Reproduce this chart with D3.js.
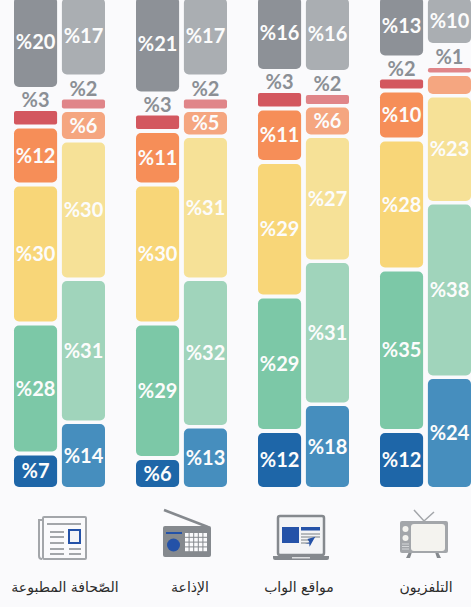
<!DOCTYPE html>
<html>
<head>
<meta charset="utf-8">
<script src="https://cdn.jsdelivr.net/npm/d3@7"></script>
<style>
  html, body { margin: 0; padding: 0; background: #fafafc; }
  svg { display: block; }
</style>
</head>
<body>
<svg id="drawing_region"></svg>
<script>
// left to right, as in the picture
const media = ['الصّحافة المطبوعة', 'الإذاعة', 'مواقع الواب', 'التلفزيون'];
const labelCentres = [65, 190, 299, 426];

// stack order, bottom to top
const levels = ['blue', 'green', 'yellow', 'orange', 'red', 'grey'];
const darkColors = ['#1e66a8', '#7cc8a7', '#f8d678', '#f68e58', '#d3575f', '#8d9197'];
const lightColors = ['#468ebe', '#a0d4bb', '#f6e197', '#f5a680', '#e08589', '#aaaeb2'];

const printPress = [7, 28, 30, 12, 3, 20];
const printPressLight = [14, 31, 30, 6, 2, 17];
const radio = [6, 29, 30, 11, 3, 21];
const radioLight = [13, 32, 31, 5, 2, 17];
const web = [12, 29, 29, 11, 3, 16];
const webLight = [18, 31, 27, 6, 2, 16];
const tv = [12, 35, 28, 10, 2, 13];
const tvLight = [24, 38, 23, 4, 1, 10];

const darkSeries = [printPress, radio, web, tv];
const lightSeries = [printPressLight, radioLight, webLight, tvLight];

const width = 471, height = 607;
const bottom = 487;
const gaps = { dark: 4, light: 3.5 };      // space between two segments
const redGaps = { dark: 24, light: 25 };   // room for the grey label above the red segment

const svg = d3.select('#drawing_region')
    .attr('width', width)
    .attr('height', height);

const xscale = d3.scaleBand()
    .domain(d3.range(media.length))
    .range([14, 14 + 122 * media.length]);

const subscale = d3.scaleBand()
    .domain(['dark', 'light'])
    .range([0, 91])
    .paddingInner(0.1);

const yscale = d3.scaleLinear()
    .domain([0, 100])
    .range([0, 450]);

function segments(values, m, kind) {
    let top = bottom;
    return values.map((v, i) => {
        if (levels[i] === 'grey') top -= redGaps[kind];
        else if (i > 0) top -= gaps[kind];
        const h = yscale(v);
        const seg = { m, kind, i, value: v, level: levels[i], y: top - h, h };
        top -= h;
        return seg;
    });
}

const data = [];
darkSeries.forEach((vals, m) => data.push(...segments(vals, m, 'dark')));
lightSeries.forEach((vals, m) => data.push(...segments(vals, m, 'light')));

const chart = svg.append('g');

chart.selectAll('rect')
    .data(data)
    .enter()
    .append('rect')
    .attr('x', d => xscale(d.m) + subscale(d.kind))
    .attr('y', d => d.y)
    .attr('width', subscale.bandwidth())
    .attr('height', d => d.h)
    .attr('rx', d => d.level === 'red' ? 2 : 5)
    .attr('fill', d => (d.kind === 'dark' ? darkColors : lightColors)[d.i]);

// the 4% segment of the TV column has no label in the original
chart.selectAll('text')
    .data(data.filter(d => d.value > 4 || d.level === 'red'))
    .enter()
    .append('text')
    .attr('x', d => xscale(d.m) + subscale(d.kind) + subscale.bandwidth() / 2)
    .attr('y', d => d.level === 'red' ? d.y - 11 : d.y + d.h / 2)
    .attr('dy', '0.36em')
    .attr('text-anchor', 'middle')
    .attr('direction', 'ltr')
    .style('font-family', 'Lato, "Open Sans", sans-serif')
    .style('font-weight', 700)
    .style('font-size', '20px')
    .style('fill', d => d.level === 'red' ? '#8b8f95' : '#fcfcfc')
    .text(d => '%' + d.value);

svg.selectAll('text.media')
    .data(media)
    .enter()
    .append('text')
    .attr('class', 'media')
    .attr('x', (d, i) => labelCentres[i])
    .attr('y', 592)
    .attr('text-anchor', 'middle')
    .attr('direction', 'rtl')
    .style('font-family', '"DejaVu Sans", "Noto Sans", sans-serif')
    .style('font-size', '14px')
    .style('fill', '#2b2b2b')
    .text(d => d);

// icons
const iconGrey = '#a3a6aa', iconDark = '#85898e', iconBlue = '#2452a8';

// newspaper
const paper = svg.append('g').attr('fill', 'none').attr('stroke', iconGrey);
paper.append('path').attr('d', 'M42 520H39V556Q39 559 42 559').attr('stroke-width', 2);
paper.append('rect').attr('x', 43).attr('y', 517).attr('width', 43).attr('height', 42)
    .attr('rx', 1).attr('fill', '#fafafc').attr('stroke-width', 2);
paper.append('path').attr('stroke-width', 2)
    .attr('d', 'M47 524H81M50 532H64M50 537H64M50 543H64M50 549H64M69 549H81M50 554H64M69 554H81');
paper.append('rect').attr('x', 69).attr('y', 530).attr('width', 11).attr('height', 13)
    .attr('fill', '#f3f4f6').attr('stroke', iconBlue).attr('stroke-width', 2);

// radio
const rd = svg.append('g');
rd.append('path').attr('d', 'M164 510L208 527').attr('stroke', iconDark).attr('stroke-width', 2.5);
rd.append('rect').attr('x', 163).attr('y', 526).attr('width', 48).attr('height', 31)
    .attr('rx', 2).attr('fill', iconDark);
rd.append('rect').attr('x', 166).attr('y', 532).attr('width', 16).attr('height', 2).attr('fill', iconBlue);
rd.append('circle').attr('cx', 173.5).attr('cy', 545).attr('r', 6.5).attr('fill', iconBlue);
d3.range(4).forEach(r => d3.range(5).forEach(c => {
    rd.append('rect')
        .attr('x', 185 + c * 4.6).attr('y', 533 + r * 4.8)
        .attr('width', 3.6).attr('height', 3.8).attr('fill', '#fafafc');
}));

// laptop
const lap = svg.append('g');
lap.append('rect').attr('x', 278).attr('y', 516).attr('width', 46).attr('height', 39)
    .attr('rx', 2).attr('fill', '#f3f4f6').attr('stroke', iconDark).attr('stroke-width', 2.5);
lap.append('path').attr('d', 'M273 556H329V558Q329 560 327 560H275Q273 560 273 558Z').attr('fill', iconDark);
lap.append('rect').attr('x', 292).attr('y', 557).attr('width', 18).attr('height', 1.5).attr('fill', '#dcdee0');
lap.append('rect').attr('x', 282).attr('y', 527).attr('width', 17).attr('height', 16).attr('fill', iconBlue);
lap.append('rect').attr('x', 301).attr('y', 527).attr('width', 19).attr('height', 3.5).attr('fill', iconBlue);
lap.append('path').attr('d', 'M301 534H320M301 537H320M301 540H312M301 543H310')
    .attr('stroke', iconGrey).attr('stroke-width', 1.5);
lap.append('path').attr('d', 'M311 535L314 546L311.5 544L308.5 547L311 543L307 542Z')
    .attr('transform', 'rotate(45 311 541)').attr('fill', iconBlue);

// tv
const set = svg.append('g');
set.append('path').attr('d', 'M414 510L424 521L434 512').attr('fill', 'none')
    .attr('stroke', iconGrey).attr('stroke-width', 1.5);
set.append('path').attr('d', 'M409 552L406 558H410L412 552ZM438 552L441 558H437L435 552Z').attr('fill', iconDark);
set.append('rect').attr('x', 400).attr('y', 521).attr('width', 48).attr('height', 32)
    .attr('rx', 2).attr('fill', iconGrey);
set.append('rect').attr('x', 411).attr('y', 524).attr('width', 34).attr('height', 27)
    .attr('rx', 3).attr('fill', '#f4f3ef');
set.append('circle').attr('cx', 405.5).attr('cy', 529).attr('r', 3).attr('fill', '#f4f3ef');
set.append('circle').attr('cx', 405.5).attr('cy', 538).attr('r', 3).attr('fill', '#f4f3ef');
set.append('path').attr('d', 'M402 544H409M402 546.5H409M402 549H409').attr('stroke', '#d5d7d9');
</script>
</body>
</html>
